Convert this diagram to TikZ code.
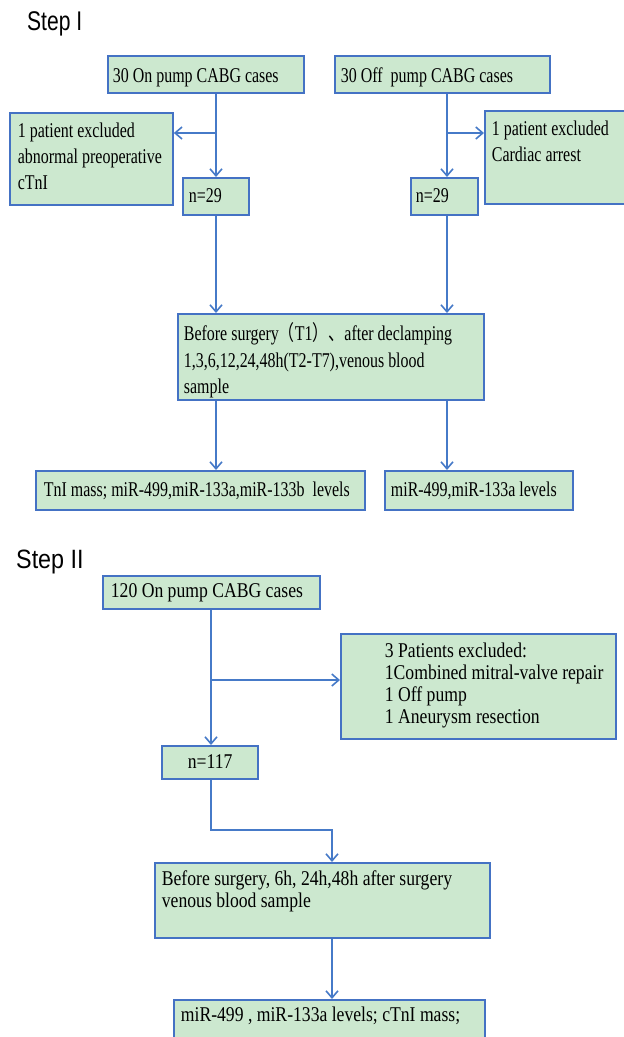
\documentclass[tikz,border=0pt]{standalone}
\usepackage{fontspec}
\setmainfont[FakeStretch=0.76]{Liberation Serif}
\newfontfamily\myfontA[FakeStretch=0.76]{Liberation Serif}
\newfontfamily\myfontB[FakeStretch=0.84]{Liberation Serif}
\newfontfamily\mycjk[FakeStretch=0.76]{Noto Sans CJK SC}
\newfontfamily\myheadA[FakeStretch=0.78]{Liberation Sans}
\newfontfamily\myheadB[FakeStretch=0.88]{Liberation Sans}
\usetikzlibrary{arrows.meta}
\definecolor{bord}{RGB}{68,114,196}
\definecolor{fillg}{RGB}{204,232,207}
\definecolor{conn}{RGB}{70,122,200}
\newcommand{\fsA}{\myfontA\fontsize{21}{26}\selectfont}
\newcommand{\fsM}{\myfontA\fontsize{21}{26.5}\selectfont}
\newcommand{\fsB}{\myfontB\fontsize{21}{22}\selectfont}
\newcommand{\fsBB}{\myfontB\fontsize{21}{26}\selectfont}
% name, x1, y1, x2, y2, font, left pad, top pad, text
\newcommand{\bx}[9]{\node[box] (#1) at (#2,#3) {\parbox[c][\dimexpr #5pt-#3pt\relax][t]{\dimexpr #4pt-#2pt\relax}{#6\raggedright\leftskip=#7pt\relax\vspace*{#8pt}\strut #9}};}
\tikzset{
  box/.style={draw=bord, fill=fillg, line width=1.8pt, inner sep=0pt, anchor=north west},
  arr/.style={draw=conn, line width=1.8pt, -{Straight Barb[length=7pt,width=12pt,line width=1.6pt]}},
  head/.style={anchor=base west, inner sep=0pt}
}
\begin{document}
\begin{tikzpicture}[x=1pt,y=-1pt]
\fill[white] (0,0) rectangle (624,1037);
\useasboundingbox (0,0) rectangle (624,1037);
% headings
\node[head, font=\myheadA\fontsize{27}{30}\selectfont] (h1) at (27,30) {Step I};
\node[head, font=\myheadB\fontsize{26.5}{30}\selectfont] (h2) at (16,568) {Step II};
% Step I boxes
\bx{on1}{107}{55}{303}{92}{\fsA}{5}{8.8}{30 On pump CABG cases}
\bx{off1}{334}{55}{549}{92}{\fsA}{6}{8.8}{30 Off~ pump CABG cases}
\bx{ex1}{9}{112}{172}{204}{\fsA}{8}{6.8}{1 patient excluded\\abnormal preoperative\\cTnI}
\bx{ex2}{484}{110}{640}{203}{\fsA}{7}{6.8}{1 patient excluded\\Cardiac arrest}
\bx{n29a}{182}{177}{248}{214}{\fsA}{6}{6.8}{n=29}
\bx{n29b}{410}{177}{477}{214}{\fsA}{5}{6.8}{n=29}
\bx{mid}{177}{313}{483}{399}{\fsM}{6}{8.5}{Before surgery{\mycjk （}T1{\mycjk ）、}after declamping\\1,3,6,12,24,48h(T2-T7),venous blood\\sample}
\bx{out1}{35}{470}{364}{509}{\fsA}{8}{7.8}{TnI mass; miR-499,miR-133a,miR-133b~ levels}
\bx{out2}{384}{470}{572}{509}{\fsA}{6}{7.8}{miR-499,miR-133a levels}
% Step II boxes
\bx{on2}{102}{575}{319}{608}{\fsBB}{8}{3.8}{120 On pump CABG cases}
\bx{ex3}{340}{633}{615}{738}{\fsB}{44}{8.6}{3 Patients excluded:\\1Combined mitral-valve repair\\1 Off pump\\1 Aneurysm resection}
\bx{n117}{161}{745}{257}{778}{\fsBB}{26}{4.8}{n=117}
\bx{bs2}{154}{862}{489}{937}{\fsB}{7}{7.6}{Before surgery, 6h, 24h,48h after surgery\\venous blood sample}
\bx{out3}{173}{999}{484}{1050}{\fsB}{7}{6.6}{miR-499 , miR-133a levels; cTnI mass;}
% column coordinates
\coordinate (xl) at (216,0);
\coordinate (xr) at (447,0);
\coordinate (x2) at (211,0);
\coordinate (x3) at (332,0);
\coordinate (yb1) at (0,133);
\coordinate (yb2) at (0,680);
\coordinate (yb3) at (0,830);
% Step I connectors
\draw[arr] (xl |- on1.south) -- (xl |- n29a.north);
\draw[arr] (xl |- yb1) -- (ex1.east |- yb1);
\draw[arr] (xl |- n29a.south) -- (xl |- mid.north);
\draw[arr] (xr |- off1.south) -- (xr |- n29b.north);
\draw[arr] (xr |- yb1) -- (ex2.west |- yb1);
\draw[arr] (xr |- n29b.south) -- (xr |- mid.north);
\draw[arr] (xl |- mid.south) -- (xl |- out1.north);
\draw[arr] (xr |- mid.south) -- (xr |- out2.north);
% Step II connectors
\draw[arr] (x2 |- on2.south) -- (x2 |- n117.north);
\draw[arr] (x2 |- yb2) -- (ex3.west |- yb2);
\draw[arr] (x2 |- n117.south) |- (x3 |- yb3) -- (x3 |- bs2.north);
\draw[arr] (x3 |- bs2.south) -- (x3 |- out3.north);
\end{tikzpicture}
\end{document}
